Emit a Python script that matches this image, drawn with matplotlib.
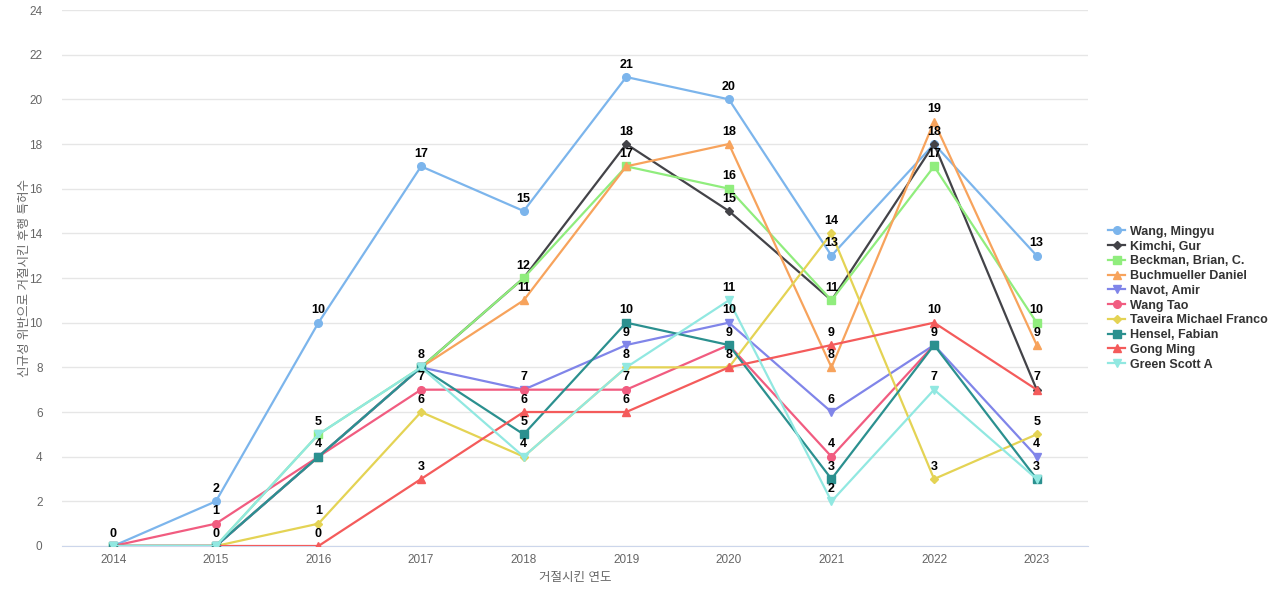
import numpy as np
import matplotlib
matplotlib.use("Agg")
import matplotlib.pyplot as plt

plt.rcParams['font.family'] = ['Liberation Sans', 'Noto Sans CJK KR', 'DejaVu Sans']

years = [2014, 2015, 2016, 2017, 2018, 2019, 2020, 2021, 2022, 2023]

wang_mingyu = [0, 2, 10, 17, 15, 21, 20, 13, 18, 13]
kimchi_gur = [0, 0, 4, 8, 12, 18, 15, 11, 18, 7]
beckman = [0, 0, 5, 8, 12, 17, 16, 11, 17, 10]
buchmueller = [0, 0, 4, 8, 11, 17, 18, 8, 19, 9]
navot = [0, 0, 4, 8, 7, 9, 10, 6, 9, 4]
wang_tao = [0, 1, 4, 7, 7, 7, 9, 4, 9, None]
taveira = [0, 0, 1, 6, 4, 8, 8, 14, 3, 5]
hensel = [0, 0, 4, 8, 5, 10, 9, 3, 9, 3]
gong_ming = [0, 0, 0, 3, 6, 6, 8, 9, 10, 7]
green_scott = [0, 0, 5, 8, 4, 8, 11, 2, 7, 3]

series_names = ["Wang, Mingyu", "Kimchi, Gur", "Beckman, Brian, C.", "Buchmueller Daniel",
                "Navot, Amir", "Wang Tao", "Taveira Michael Franco", "Hensel, Fabian",
                "Gong Ming", "Green Scott A"]
series_values = [wang_mingyu, kimchi_gur, beckman, buchmueller, navot, wang_tao,
                 taveira, hensel, gong_ming, green_scott]
colors = ["#7cb5ec", "#434348", "#90ed7d", "#f7a35c", "#8085e9", "#f15c80",
          "#e4d354", "#2b908f", "#f45b5b", "#91e8e1"]
markers = ["o", "D", "s", "^", "v", "o", "D", "s", "^", "v"]
msizes = [5.5, 4, 5.5, 6, 6, 5.5, 4, 5.5, 6, 6]

fig = plt.figure(figsize=(12.8, 6), dpi=100)
ax = fig.add_axes([0.0484, 0.09, 0.8016, 0.8933])

x = np.arange(len(years))
for name, vals, c, m, ms in zip(series_names, series_values, colors, markers, msizes):
    y = np.array([np.nan if v is None else v for v in vals], dtype=float)
    ax.plot(x, y, color=c, lw=1.6, marker=m, markersize=ms, label=name, zorder=3)

seen = set()
for vals in series_values:
    for i, v in enumerate(vals):
        if v is None or (i, v) in seen:
            continue
        seen.add((i, v))
        ax.annotate(str(v), (x[i], v), xytext=(0, 4.5), textcoords="offset points",
                    ha="center", va="bottom", fontsize=9, fontweight="bold",
                    color="black", zorder=5)

ax.set_xlim(-0.5, len(years) - 0.5)
ax.set_ylim(0, 24)
ax.set_yticks(range(0, 25, 2))
ax.set_xticks(x)
ax.set_xticklabels([str(y) for y in years])
ax.tick_params(axis='both', colors="#666666", labelsize=8.5, length=0)
ax.tick_params(axis='x', pad=6)
ax.tick_params(axis='y', pad=14)
for lab in ax.get_yticklabels():
    lab.set_horizontalalignment('right')
ax.grid(axis='y', color="#e6e6e6", lw=1, zorder=0)
ax.set_axisbelow(True)
for s in ["top", "right", "left"]:
    ax.spines[s].set_visible(False)
ax.spines["bottom"].set_color("#ccd6eb")

ax.set_xlabel("거절시킨 연도", color="#666666", fontsize=9, labelpad=4)
ax.set_ylabel("신규성 위반으로 거절시킨 후행 특허수", color="#666666", fontsize=9, labelpad=-1)

leg = fig.legend(loc="center left", bbox_to_anchor=(0.866, 0.503), frameon=False,
                 prop={'weight': 'bold', 'size': 9},
                 handlelength=1.3, handletextpad=0.4, labelspacing=0.22,
                 borderaxespad=0, borderpad=0)
for t in leg.get_texts():
    t.set_color("#333333")

fig.savefig("out.png", dpi=100)
